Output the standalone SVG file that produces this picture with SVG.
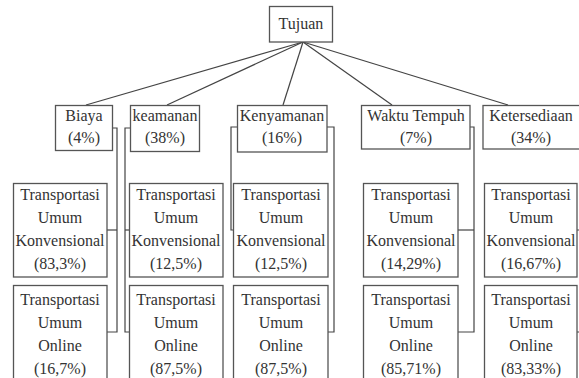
<svg xmlns="http://www.w3.org/2000/svg" width="579" height="378" viewBox="0 0 579 378">
<style>
.box{fill:#fff;stroke:#555;stroke-width:1.3}
.ln{fill:none;stroke:#444;stroke-width:1.2}
text{font-family:"Liberation Serif","Times New Roman",serif;font-size:16px;fill:#333;text-anchor:middle}
</style>
<rect width="579" height="378" fill="#fff"/>
<g id="connectors" class="ln">
<line x1="303" y1="42" x2="86" y2="105"/>
<line x1="303" y1="42" x2="167" y2="105"/>
<line x1="303" y1="42" x2="283" y2="105"/>
<line x1="303" y1="42" x2="392" y2="105"/>
<line x1="303" y1="42" x2="508" y2="105"/>
<polyline points="112,128 117,128 117,332 107,332"/>
<line x1="107" y1="230" x2="117" y2="230"/>
<polyline points="130,128 125,128 125,332 129,332"/>
<line x1="125" y1="230" x2="129" y2="230"/>
<polyline points="237,127 231,127 231,230 233,230"/>
<polyline points="327,127 334,127 334,332 328,332"/>
<polyline points="470,127 474,127 474,332 458,332"/>
<line x1="458" y1="230" x2="474" y2="230"/>
<line x1="577" y1="230" x2="580" y2="230"/>
<line x1="577" y1="332" x2="580" y2="332"/>
</g>
<g id="tujuan"><rect class="box" x="269.5" y="6.5" width="63" height="35.5"/><text x="301" y="29">Tujuan</text></g>
<g id="biaya"><rect class="box" x="55.5" y="105.5" width="57" height="45"/><text x="84" y="121">Biaya</text><text x="84" y="143">(4%)</text></g>
<g id="keamanan"><rect class="box" x="130.5" y="105.5" width="69" height="46"/><text x="165" y="121">keamanan</text><text x="165" y="143">(38%)</text></g>
<g id="kenyamanan"><rect class="box" x="237.5" y="105.5" width="89.5" height="46.5"/><text x="282" y="121">Kenyamanan</text><text x="282" y="143">(16%)</text></g>
<g id="waktu"><rect class="box" x="361.5" y="105.5" width="108.5" height="43.5"/><text x="416" y="121">Waktu Tempuh</text><text x="416" y="143">(7%)</text></g>
<g id="ketersediaan"><rect class="box" x="483" y="105.5" width="100" height="43.5"/><text x="531" y="121">Ketersediaan</text><text x="531" y="143">(34%)</text></g>
<g id="k1"><rect class="box" x="13.5" y="183.5" width="93.5" height="93.5"/><text x="60" y="200">Transportasi</text><text x="60" y="223">Umum</text><text x="60" y="246">Konvensional</text><text x="60" y="269">(83,3%)</text></g>
<g id="o1"><rect class="box" x="13.5" y="285.5" width="93.5" height="96"/><text x="60" y="305">Transportasi</text><text x="60" y="328">Umum</text><text x="60" y="351">Online</text><text x="60" y="374">(16,7%)</text></g>
<g id="k2"><rect class="box" x="129.5" y="183.5" width="93.5" height="93.5"/><text x="176" y="200">Transportasi</text><text x="176" y="223">Umum</text><text x="176" y="246">Konvensional</text><text x="176" y="269">(12,5%)</text></g>
<g id="o2"><rect class="box" x="129.5" y="285.5" width="93.5" height="96"/><text x="176" y="305">Transportasi</text><text x="176" y="328">Umum</text><text x="176" y="351">Online</text><text x="176" y="374">(87,5%)</text></g>
<g id="k3"><rect class="box" x="233.5" y="183.5" width="94.5" height="93.5"/><text x="281" y="200">Transportasi</text><text x="281" y="223">Umum</text><text x="281" y="246">Konvensional</text><text x="281" y="269">(12,5%)</text></g>
<g id="o3"><rect class="box" x="233.5" y="285.5" width="94.5" height="96"/><text x="281" y="305">Transportasi</text><text x="281" y="328">Umum</text><text x="281" y="351">Online</text><text x="281" y="374">(87,5%)</text></g>
<g id="k4"><rect class="box" x="363.5" y="183.5" width="94.5" height="93.5"/><text x="411" y="200">Transportasi</text><text x="411" y="223">Umum</text><text x="411" y="246">Konvensional</text><text x="411" y="269">(14,29%)</text></g>
<g id="o4"><rect class="box" x="363.5" y="285.5" width="94.5" height="96"/><text x="411" y="305">Transportasi</text><text x="411" y="328">Umum</text><text x="411" y="351">Online</text><text x="411" y="374">(85,71%)</text></g>
<g id="k5"><rect class="box" x="484.5" y="183.5" width="92.5" height="93.5"/><text x="531" y="200">Transportasi</text><text x="531" y="223">Umum</text><text x="531" y="246">Konvensional</text><text x="531" y="269">(16,67%)</text></g>
<g id="o5"><rect class="box" x="484.5" y="285.5" width="92.5" height="96"/><text x="531" y="305">Transportasi</text><text x="531" y="328">Umum</text><text x="531" y="351">Online</text><text x="531" y="374">(83,33%)</text></g>
</svg>
